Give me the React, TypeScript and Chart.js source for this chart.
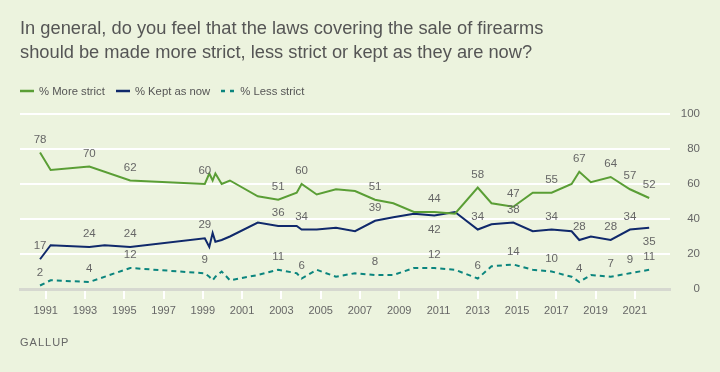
import React, { useEffect, useRef } from "react";
import { Chart, registerables } from "chart.js";

Chart.register(...registerables);

// ---- DATA ----
const surveyDates = [
  1990.71, 1991.25, 1993.22, 1994.0, 1995.3, 1999.1, 1999.33, 1999.5, 1999.64, 1999.96,
  2000.38, 2001.8, 2002.84, 2003.78, 2004.03, 2004.8, 2005.78, 2006.75, 2007.77, 2008.7,
  2009.75, 2010.79, 2011.84, 2013.0, 2013.7, 2014.81, 2015.8, 2016.76, 2017.78, 2018.17,
  2018.76, 2019.77, 2020.75, 2021.73,
];
const moreStrict = [
  78, 68, 70, null, 62, 60, 66, 62, 66, 60,
  62, 53, 51, 55, 60, 54, 57, 56, 51, 49,
  44, 44, 43, 58, 49, 47, 55, 55, 60, 67,
  61, 64, 57, 52,
];
const keptAsNow = [
  17, 25, 24, 25, 24, 29, 24, 32, 27, 28,
  30, 38, 36, 36, 34, 34, 35, 33, 39, 41,
  43, 42, 44, 34, 37, 38, 33, 34, 33, 28,
  30, 28, 34, 35,
];
const lessStrict = [
  2, 5, 4, null, 12, 9, 7, 5, 7, 10,
  5, 8, 11, 9, 6, 11, 7, 9, 8, 8,
  12, 12, 11, 6, 13, 14, 11, 10, 7, 4,
  8, 7, 9, 11,
];
const seriesNames = ["% More strict", "% Kept as now", "% Less strict"];
const xTickYears = [1991, 1993, 1995, 1997, 1999, 2001, 2003, 2005, 2007, 2009, 2011, 2013, 2015, 2017, 2019, 2021];
const yTickValues = [0, 20, 40, 60, 80, 100];
const labeledPoints = [0, 2, 4, 5, 12, 14, 18, 21, 23, 25, 27, 29, 31, 32, 33];
const keptLabelsBelow = [21, 33];

const titleLines = [
  "In general, do you feel that the laws covering the sale of firearms",
  "should be made more strict, less strict or kept as they are now?",
];

// ---- STYLE ----
const FONT = '"Liberation Sans", Arial, Helvetica, sans-serif';
const BG = "#ecf3de";
const COLORS = ["#5a9e35", "#10296b", "#0b857e"];
const DASH = [5, 4];

export default function App() {
  const ref = useRef<HTMLCanvasElement>(null);

  useEffect(() => {
    const labelPlugin = {
      id: "valueLabels",
      afterDatasetsDraw(chart: any) {
        const ctx = chart.ctx;
        ctx.save();
        ctx.font = `11.5px ${FONT}`;
        ctx.fillStyle = "#666";
        ctx.textAlign = "center";
        ctx.textBaseline = "middle";
        chart.data.datasets.forEach((ds: any, di: number) => {
          const meta = chart.getDatasetMeta(di);
          labeledPoints.forEach((idx) => {
            const el = meta.data[idx];
            const v = ds.data[idx];
            if (!el || !v || v.y == null) return;
            const below = di === 1 && keptLabelsBelow.includes(idx);
            ctx.fillText(String(v.y), el.x, el.y + (below ? 14 : -13));
          });
        });
        ctx.restore();
      },
    };

    const series = [moreStrict, keptAsNow, lessStrict];
    const chart = new Chart(ref.current as HTMLCanvasElement, {
      type: "line",
      data: {
        datasets: series.map((vals, i) => ({
          label: seriesNames[i],
          data: surveyDates.map((d, j) => ({ x: d, y: vals[j] })),
          borderColor: COLORS[i],
          backgroundColor: COLORS[i],
          borderWidth: 2,
          borderDash: i === 2 ? DASH : [],
          pointRadius: 0,
          tension: 0,
          spanGaps: true,
        })),
      },
      options: {
        responsive: false,
        animation: false,
        devicePixelRatio: 1,
        layout: { padding: { top: 114, left: 20, right: 20, bottom: 53 } },
        plugins: {
          legend: { display: false },
          title: { display: false },
          tooltip: { enabled: false },
        },
        scales: {
          x: {
            type: "linear",
            min: 1989.69,
            max: 2022.79,
            afterBuildTicks: (scale: any) => {
              scale.ticks = xTickYears.map((v) => ({ value: v }));
            },
            afterFit: (scale: any) => {
              scale.height = 30;
            },
            ticks: {
              callback: (v: any) => String(v),
              color: "#666",
              font: { family: FONT, size: 11 },
              padding: 5,
              maxRotation: 0,
              autoSkip: false,
            },
            grid: {
              drawOnChartArea: false,
              drawTicks: true,
              tickLength: 10,
              color: "#ffffff",
              lineWidth: 2,
            },
            border: { display: true, color: "#d6d8d0", width: 3 },
          },
          y: {
            position: "right",
            min: 0,
            max: 100,
            afterBuildTicks: (scale: any) => {
              scale.ticks = yTickValues.map((v) => ({ value: v }));
            },
            afterFit: (scale: any) => {
              scale.width = 30;
            },
            ticks: {
              color: "#666",
              font: { family: FONT, size: 11.5 },
              padding: 11,
              crossAlign: "far",
            },
            grid: {
              drawTicks: false,
              color: (c: any) => (c.tick && c.tick.value === 0 ? "rgba(0,0,0,0)" : "#ffffff"),
              lineWidth: 2,
            },
            border: { display: false },
          },
        },
      },
      plugins: [labelPlugin],
    } as any);
    return () => chart.destroy();
  }, []);

  return (
    <div
      style={{
        position: "fixed",
        left: 0,
        top: 0,
        width: 720,
        height: 372,
        background: BG,
        overflow: "hidden",
        fontFamily: FONT,
      }}
    >
      <canvas ref={ref} width={720} height={372} style={{ position: "absolute", left: 0, top: 0 }} />
      <div
        style={{
          position: "absolute",
          left: 20,
          top: 16,
          fontSize: 18.3,
          lineHeight: "24px",
          color: "#555",
          whiteSpace: "nowrap",
        }}
      >
        {titleLines.map((t, i) => (
          <div key={i}>{t}</div>
        ))}
      </div>
      <div
        style={{
          position: "absolute",
          left: 20,
          top: 84,
          display: "flex",
          alignItems: "center",
          fontSize: 11.3,
          lineHeight: "14px",
          color: "#555",
        }}
      >
        {seriesNames.map((name, i) => (
          <div key={i} style={{ display: "flex", alignItems: "center", marginRight: 11 }}>
            <svg width={14} height={4} style={{ marginRight: 5 }}>
              <line
                x1={0}
                y1={2}
                x2={14}
                y2={2}
                stroke={COLORS[i]}
                strokeWidth={2.5}
                strokeDasharray={i === 2 ? "4 5" : undefined}
              />
            </svg>
            <span>{name}</span>
          </div>
        ))}
      </div>
      <div
        style={{
          position: "absolute",
          left: 20,
          top: 335,
          fontSize: 11,
          letterSpacing: 1,
          color: "#666",
          lineHeight: "14px",
        }}
      >
        GALLUP
      </div>
    </div>
  );
}
